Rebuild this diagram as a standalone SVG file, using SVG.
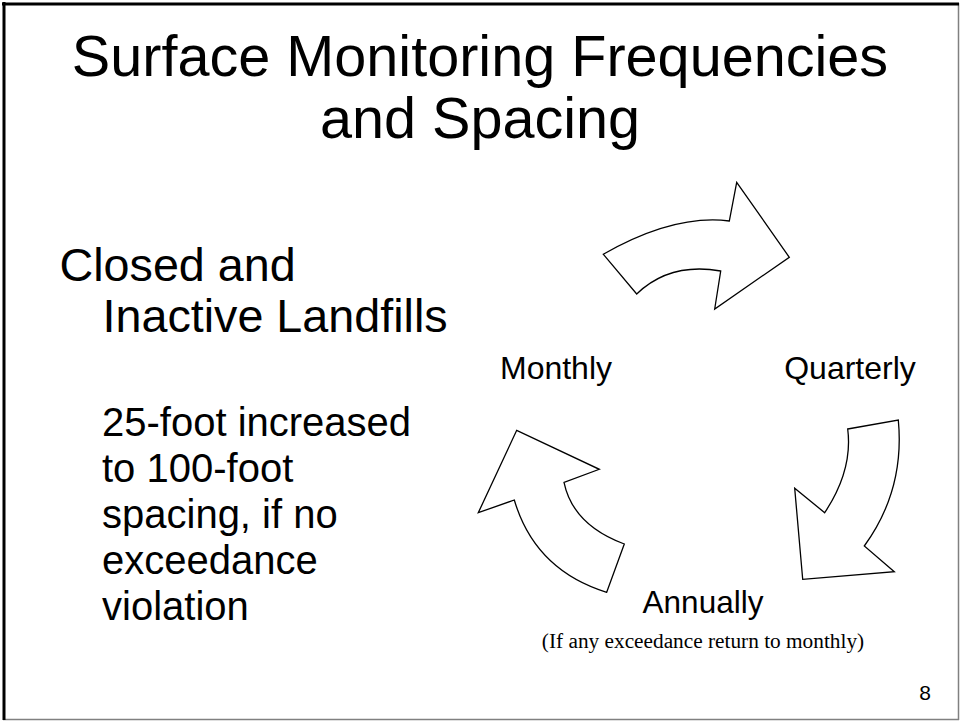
<svg xmlns="http://www.w3.org/2000/svg" width="960" height="721" viewBox="0 0 960 721">
<style>
.sans{font-family:"Liberation Sans",Arial,sans-serif;fill:#000}
.serif{font-family:"Liberation Serif","Times New Roman",serif;fill:#000}
.arrow{fill:#fff;stroke:#000;stroke-width:1.3;stroke-linejoin:miter}
</style>
<rect x="0" y="0" width="960" height="721" fill="#fff"/>
<g id="frame">
<line x1="3" y1="719.5" x2="959" y2="719.5" stroke="#808080" stroke-width="1.5"/>
<line x1="958.5" y1="3" x2="958.5" y2="720" stroke="#808080" stroke-width="1.5"/>
<line x1="2" y1="4" x2="959" y2="4" stroke="#000" stroke-width="3"/>
<line x1="4" y1="2" x2="4" y2="720" stroke="#000" stroke-width="3"/>
</g>
<g id="title">
<text class="sans" x="480" y="76" font-size="57.6" text-anchor="middle">Surface Monitoring Frequencies</text>
<text class="sans" x="480" y="138" font-size="57.6" text-anchor="middle">and Spacing</text>
</g>
<g id="body">
<text class="sans" x="59.5" y="281" font-size="46.7">Closed and</text>
<text class="sans" x="102.5" y="332" font-size="46.7">Inactive Landfills</text>
<text class="sans" x="102" y="436" font-size="40">25-foot increased</text>
<text class="sans" x="102" y="482" font-size="40">to 100-foot</text>
<text class="sans" x="102" y="528" font-size="40">spacing, if no</text>
<text class="sans" x="102" y="574" font-size="40">exceedance</text>
<text class="sans" x="102" y="620" font-size="40">violation</text>
</g>
<g id="connectors">
<path id="arrow-monthly-quarterly" class="arrow" d="M 603.3,254.3 Q 674,214 729.3,221 L 736.7,182.3 L 789.3,257.3 L 714.7,309 L 720.7,271 Q 670,262 636.7,294 Z"/>
<path id="arrow-quarterly-annually" class="arrow" d="M 847.7,429 L 898.3,420 Q 905,490 864.3,546 L 894.3,571.7 L 802.7,579.3 L 794.7,488.3 L 824.7,512.7 Q 853,470 847.7,429 Z"/>
<path id="arrow-annually-monthly" class="arrow" d="M 624.3,544 L 606.7,592.3 Q 535,570 514.3,500 L 478.3,512.7 L 516.7,430.3 L 599.3,469.3 L 564,482.3 Q 573,525 624.3,544 Z"/>
</g>
<g id="node-monthly"><text class="sans" x="556" y="379" font-size="32" text-anchor="middle">Monthly</text></g>
<g id="node-quarterly"><text class="sans" x="850" y="379" font-size="32" text-anchor="middle">Quarterly</text></g>
<g id="node-annually"><text class="sans" x="703" y="613" font-size="31.5" text-anchor="middle">Annually</text></g>
<g id="note"><text class="serif" x="703" y="648" font-size="21.3" text-anchor="middle">(If any exceedance return to monthly)</text></g>
<g id="page-number"><text class="sans" x="925" y="700" font-size="21" text-anchor="middle">8</text></g>
</svg>
